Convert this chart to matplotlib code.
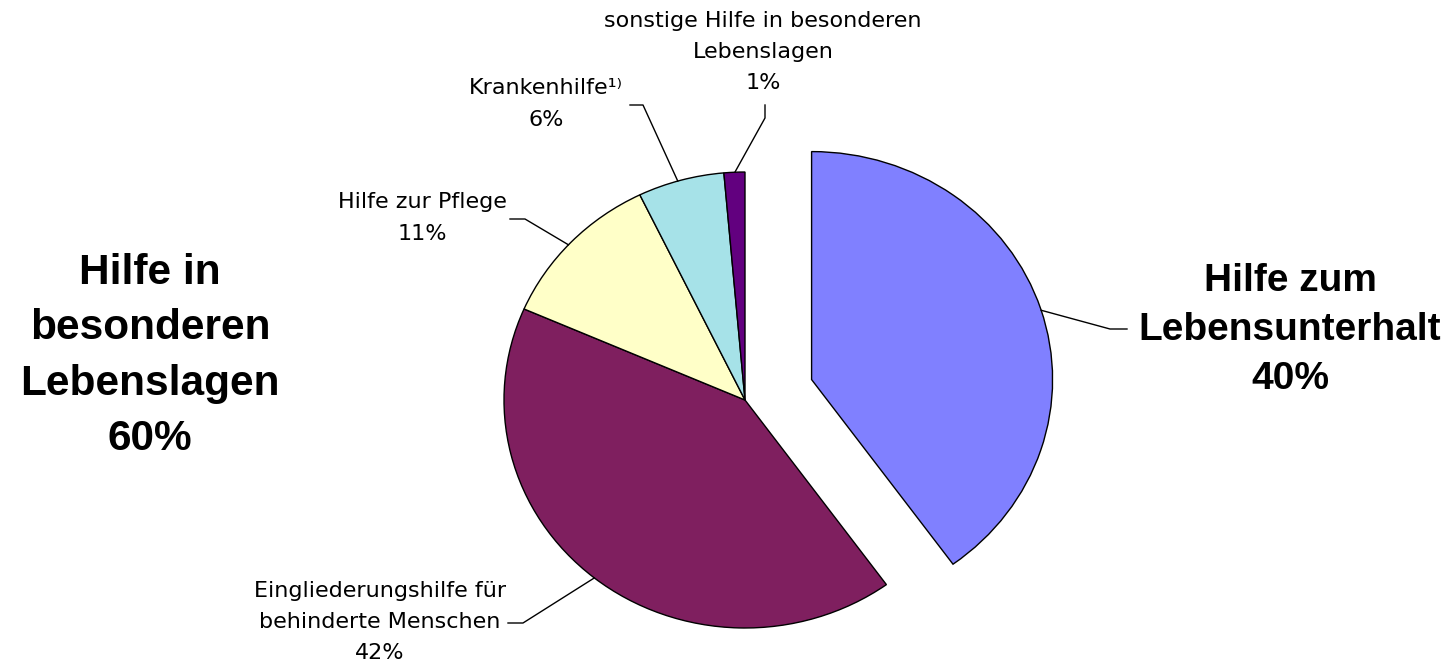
import numpy as np
import matplotlib
matplotlib.use("Agg")
import matplotlib.pyplot as plt

# Anteile an den Ausgaben der Sozialhilfe (Werte aus dem Bild geschätzt)
categories = ["Hilfe zum\nLebensunterhalt",
              "Eingliederungshilfe für\nbehinderte Menschen",
              "Hilfe zur Pflege",
              "Krankenhilfe\u00b9\u207e",
              "sonstige Hilfe in besonderen\nLebenslagen"]
shares = [40.1, 41.6, 11.3, 5.8, 1.4]
colors = ["#8080FF", "#7F1F5F", "#FFFFC8", "#A6E2E8", "#62007F"]
explode_px = [70, 0, 0, 0, 0]

group_label = "Hilfe in\nbesonderen\nLebenslagen"
group_share = sum(shares[1:])

W, H = 1455, 666
K = 0.946  # Ellipse: vertikaler Radius / horizontaler Radius


def P(px, py):
    # Pixelkoordinaten -> Datenkoordinaten
    return px, (H - py) / K


plt.rcParams['font.family'] = ['Liberation Sans', 'DejaVu Sans']
fig = plt.figure(figsize=(W / 100, H / 100), dpi=100)
ax = fig.add_axes([0, 0, 1, 1])

R = 241
cx, cy = P(745, 400)
wedges, _ = ax.pie(shares, colors=colors, startangle=90, counterclock=False,
                   explode=explode_px, radius=R, center=(cx, cy),
                   frame=True, wedgeprops=dict(edgecolor='black', linewidth=1.0))
ax.set_aspect('auto')
ax.set_xlim(0, W)
ax.set_ylim(0, H / K)
ax.axis('off')

pct = [f"{v:.0f}%" for v in shares]

# Führungslinien: Winkel auf dem Bogen, Knickpunkt, Endpunkt (Pixel)
leaders = [
    (17.7, (1110, 329), (1127, 329)),
    (231.3, (523, 623), (508, 623)),
    (137.1, (525, 219), (510, 219)),
    (106.2, (643, 105), (630, 105)),
    (92.4, (765, 118), (765, 105)),
]
for w, (ang, elbow, end) in zip(wedges, leaders):
    a = np.deg2rad(ang)
    x0 = w.center[0] + w.r * np.cos(a)
    y0 = w.center[1] + w.r * np.sin(a)
    ex, ey = P(*elbow)
    tx, ty = P(*end)
    ax.plot([x0, ex, tx], [y0, ey, ty], color='black', lw=1.0)

small = dict(fontsize=16, ha='center', va='center', linespacing=1.7,
             family=['DejaVu Sans'])
big = dict(fontsize=28, ha='center', va='center', fontweight='bold', linespacing=1.47)

ax.text(*P(1290, 330), f"{categories[0]}\n{pct[0]}", **big)
ax.text(*P(380, 622), f"{categories[1]}\n{pct[1]}", **small)
ax.text(*P(422, 218), f"{categories[2]}\n{pct[2]}", **small)
ax.text(*P(546, 104), f"{categories[3]}\n{pct[3]}", **small)
ax.text(*P(763, 52), f"{categories[4]}\n{pct[4]}", **small)
ax.text(*P(150, 356), f"{group_label}\n{group_share:.0f}%",
        **dict(big, fontsize=30.5, linespacing=1.5))

fig.savefig("out.png", dpi=100, facecolor='white')
